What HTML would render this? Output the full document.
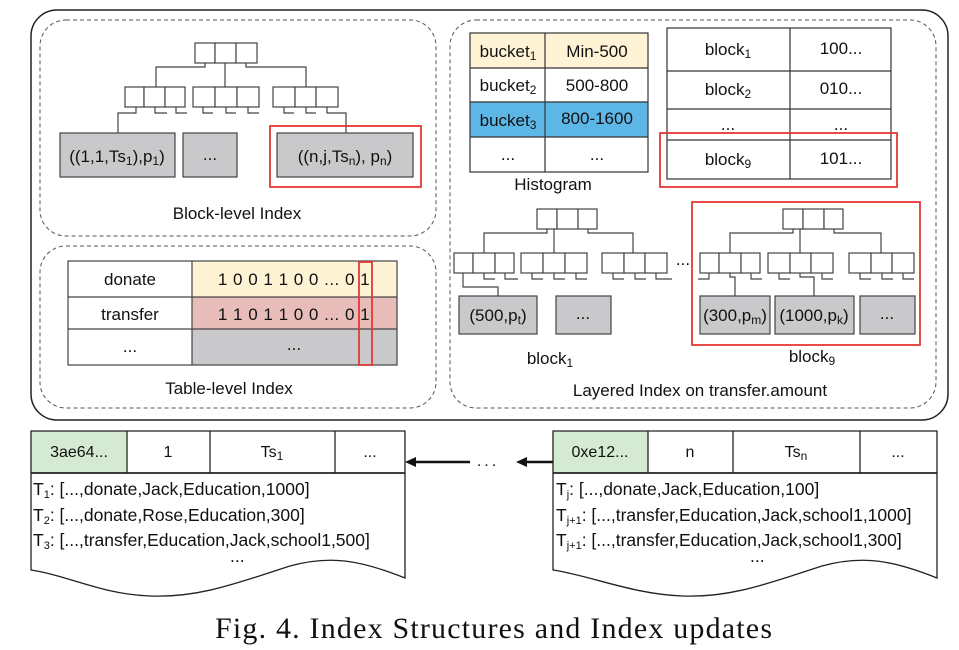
<!DOCTYPE html>
<html><head><meta charset="utf-8"><style>
html,body{margin:0;padding:0;background:#fff;}
svg{display:block;}
text{font-family:"Liberation Sans",sans-serif;fill:#111;}
</style></head><body>
<svg width="959" height="650" viewBox="0 0 959 650" xmlns="http://www.w3.org/2000/svg">
<g fill="none" stroke="#222">
<rect x="31" y="10" width="917" height="410" rx="26" stroke-width="1.5"/>
<rect x="40" y="20" width="396" height="216" rx="26" stroke-dasharray="4,3" stroke="#555"/>
<rect x="40" y="246" width="396" height="162" rx="26" stroke-dasharray="4,3" stroke="#555"/>
<rect x="450" y="20" width="486" height="388" rx="26" stroke-dasharray="4,3" stroke="#555"/>
</g>

<!-- Block-level tree -->
<g fill="#fff" stroke="#444" stroke-width="1.2">
<rect x="195" y="43" width="20" height="20"/><rect x="215" y="43" width="21" height="20"/><rect x="236" y="43" width="21" height="20"/>
<rect x="125" y="87" width="19" height="20"/><rect x="144" y="87" width="21" height="20"/><rect x="165" y="87" width="20" height="20"/>
<rect x="193" y="87" width="22" height="20"/><rect x="215" y="87" width="22" height="20"/><rect x="237" y="87" width="22" height="20"/>
<rect x="273" y="87" width="22" height="20"/><rect x="295" y="87" width="21" height="20"/><rect x="316" y="87" width="22" height="20"/>
</g>
<g fill="none" stroke="#444" stroke-width="1.2">
<polyline points="205,63 205,67 156,67 156,87"/><line x1="225" y1="63" x2="225" y2="87"/><polyline points="246,63 246,67 306,67 306,87"/>
<polyline points="136,107 136,113 118,113 118,133"/>
<polyline points="155,107 155,113 167,113"/><polyline points="176,107 176,113 187,113"/>
<polyline points="203,107 203,113 213,113"/><polyline points="226,107 226,113 236,113"/><polyline points="248,107 248,113 259,113"/>
<polyline points="284,107 284,113 294,113"/><polyline points="306,107 306,113 316,113"/><polyline points="327,107 327,113 346,113 346,133"/>
</g>
<g fill="#c9c9cb" stroke="#444" stroke-width="1.2">
<rect x="60" y="133" width="115" height="44"/><rect x="183" y="133" width="54" height="44"/><rect x="277" y="133" width="136" height="44"/>
</g>
<rect x="270" y="126" width="151" height="61" fill="none" stroke="#e53935" stroke-width="1.8"/>
<g font-size="17" text-anchor="middle">
<text x="117" y="162">((1,1,Ts<tspan font-size="12" dy="3">1</tspan><tspan dy="-3">),p</tspan><tspan font-size="12" dy="3">1</tspan><tspan dy="-3">)</tspan></text>
<text x="210" y="160">...</text>
<text x="345" y="162">((n,j,Ts<tspan font-size="12" dy="3">n</tspan><tspan dy="-3">), p</tspan><tspan font-size="12" dy="3">n</tspan><tspan dy="-3">)</tspan></text>
<text x="237" y="219">Block-level Index</text>
</g>

<!-- Table-level -->
<rect x="192" y="261" width="205" height="36" fill="#fef3d4"/>
<rect x="192" y="297" width="205" height="32" fill="#e8bcb8"/>
<rect x="192" y="329" width="205" height="36" fill="#c9c9cb"/>
<g fill="none" stroke="#444" stroke-width="1.2">
<rect x="68" y="261" width="329" height="104"/>
<line x1="192" y1="261" x2="192" y2="365"/><line x1="68" y1="297" x2="397" y2="297"/><line x1="68" y1="329" x2="397" y2="329"/>
</g>
<rect x="359" y="262" width="13" height="103" fill="none" stroke="#e53935" stroke-width="1.8"/>
<g font-size="17" text-anchor="middle">
<text x="130" y="285">donate</text><text x="130" y="320">transfer</text><text x="130" y="352">...</text>
<text x="294" y="285" letter-spacing="0.5">1 0 0 1 1 0 0 ... 0 1</text>
<text x="294" y="320" letter-spacing="0.5">1 1 0 1 1 0 0 ... 0 1</text>
<text x="294" y="350">...</text>
<text x="229" y="394">Table-level Index</text>
</g>

<!-- Histogram -->
<rect x="470" y="33" width="178" height="35" fill="#fef3d4"/>
<rect x="470" y="102" width="178" height="35" fill="#5db7e6"/>
<g fill="none" stroke="#333" stroke-width="1.2">
<rect x="470" y="33" width="178" height="139"/>
<line x1="545" y1="33" x2="545" y2="172"/><line x1="470" y1="68" x2="648" y2="68"/><line x1="470" y1="102" x2="648" y2="102"/><line x1="470" y1="137" x2="648" y2="137"/>
<rect x="667" y="28" width="224" height="151"/>
<line x1="790" y1="28" x2="790" y2="179"/><line x1="667" y1="71" x2="891" y2="71"/><line x1="667" y1="109" x2="891" y2="109"/><line x1="667" y1="140" x2="891" y2="140"/>
</g>
<rect x="660" y="133" width="237" height="54" fill="none" stroke="#e53935" stroke-width="1.8"/>
<g font-size="17" text-anchor="middle">
<text x="508" y="57">bucket<tspan font-size="12" dy="3">1</tspan></text><text x="597" y="57">Min-500</text>
<text x="508" y="91">bucket<tspan font-size="12" dy="3">2</tspan></text><text x="597" y="91">500-800</text>
<text x="508" y="126">bucket<tspan font-size="12" dy="3">3</tspan></text><text x="597" y="124">800-1600</text>
<text x="508" y="160">...</text><text x="597" y="160">...</text>
<text x="553" y="190">Histogram</text>
<text x="728" y="55">block<tspan font-size="12" dy="3">1</tspan></text><text x="841" y="54">100...</text>
<text x="728" y="95">block<tspan font-size="12" dy="3">2</tspan></text><text x="841" y="94">010...</text>
<text x="728" y="130">...</text><text x="841" y="130">...</text>
<text x="728" y="165">block<tspan font-size="12" dy="3">9</tspan></text><text x="841" y="164">101...</text>
</g>

<!-- Layered trees -->
<g fill="#fff" stroke="#444" stroke-width="1.2">
<rect x="537" y="209" width="20" height="20"/><rect x="557" y="209" width="21" height="20"/><rect x="578" y="209" width="19" height="20"/>
<rect x="454" y="253" width="19" height="20"/><rect x="473" y="253" width="22" height="20"/><rect x="495" y="253" width="19" height="20"/>
<rect x="521" y="253" width="22" height="20"/><rect x="543" y="253" width="22" height="20"/><rect x="565" y="253" width="22" height="20"/>
<rect x="602" y="253" width="22" height="20"/><rect x="624" y="253" width="21" height="20"/><rect x="645" y="253" width="22" height="20"/>
<rect x="783" y="209" width="20" height="20"/><rect x="803" y="209" width="21" height="20"/><rect x="824" y="209" width="19" height="20"/>
<rect x="700" y="253" width="19" height="20"/><rect x="719" y="253" width="22" height="20"/><rect x="741" y="253" width="19" height="20"/>
<rect x="768" y="253" width="22" height="20"/><rect x="790" y="253" width="21" height="20"/><rect x="811" y="253" width="22" height="20"/>
<rect x="849" y="253" width="22" height="20"/><rect x="871" y="253" width="21" height="20"/><rect x="892" y="253" width="22" height="20"/>
</g>
<g fill="none" stroke="#444" stroke-width="1.2">
<polyline points="547,229 547,233 484,233 484,253"/><line x1="554" y1="229" x2="554" y2="253"/><polyline points="588,229 588,233 633,233 633,253"/>
<polyline points="463,273 463,287 498,287 498,296"/>
<polyline points="484,273 484,279 495,279"/><polyline points="505,273 505,279 518,279"/>
<polyline points="532,273 532,279 543,279"/><polyline points="554,273 554,279 565,279"/><polyline points="576,273 576,279 587,279"/>
<polyline points="613,273 613,279 624,279"/><polyline points="635,273 635,279 646,279"/><polyline points="656,273 656,279 672,279"/>
<polyline points="793,229 793,233 730,233 730,253"/><line x1="800" y1="229" x2="800" y2="253"/><polyline points="834,229 834,233 881,233 881,253"/>
<polyline points="709,273 709,279 698,279"/><polyline points="730,273 730,277 735,277 735,296"/><polyline points="751,273 751,279 762,279"/>
<polyline points="779,273 779,279 790,279"/><polyline points="800,273 800,277 814,277 814,296"/><polyline points="822,273 822,279 833,279"/>
<polyline points="860,273 860,279 871,279"/><polyline points="882,273 882,279 893,279"/><polyline points="903,273 903,279 914,279"/>
</g>
<g fill="#c9c9cb" stroke="#444" stroke-width="1.2">
<rect x="459" y="296" width="78" height="38"/><rect x="556" y="296" width="55" height="38"/>
<rect x="700" y="296" width="70" height="38"/><rect x="775" y="296" width="79" height="38"/><rect x="860" y="296" width="55" height="38"/>
</g>
<rect x="692" y="202" width="228" height="143" fill="none" stroke="#e53935" stroke-width="1.8"/>
<g font-size="17" text-anchor="middle">
<text x="498" y="321">(500,p<tspan font-size="12" dy="3">t</tspan><tspan dy="-3">)</tspan></text>
<text x="583" y="319">...</text>
<text x="735" y="321">(300,p<tspan font-size="12" dy="3">m</tspan><tspan dy="-3">)</tspan></text>
<text x="814" y="321">(1000,p<tspan font-size="12" dy="3">k</tspan><tspan dy="-3">)</tspan></text>
<text x="887" y="319">...</text>
<text x="683" y="265">...</text>
<text x="550" y="364">block<tspan font-size="12" dy="3">1</tspan></text>
<text x="812" y="362">block<tspan font-size="12" dy="3">9</tspan></text>
<text x="700" y="396">Layered Index on transfer.amount</text>
</g>

<!-- Bottom blocks -->
<rect x="31" y="431" width="96" height="42" fill="#d5ead3"/>
<rect x="553" y="431" width="95" height="42" fill="#d5ead3"/>
<g fill="none" stroke="#222" stroke-width="1.3">
<path d="M31,431 H405 V578 C360,560 330,555 290,566 C240,582 200,598 150,596 C100,594 70,576 31,570 Z"/>
<line x1="31" y1="473" x2="405" y2="473" stroke-width="1.8"/>
<line x1="127" y1="431" x2="127" y2="473"/><line x1="210" y1="431" x2="210" y2="473"/><line x1="335" y1="431" x2="335" y2="473"/>
<path d="M553,431 H937 V578 C892,560 862,555 822,566 C772,582 732,598 682,596 C632,594 592,576 553,570 Z"/>
<line x1="553" y1="473" x2="937" y2="473" stroke-width="1.8"/>
<line x1="648" y1="431" x2="648" y2="473"/><line x1="733" y1="431" x2="733" y2="473"/><line x1="860" y1="431" x2="860" y2="473"/>
</g>
<g stroke="#111" stroke-width="2.5"><line x1="414" y1="462" x2="470" y2="462"/><line x1="526" y1="462" x2="553" y2="462"/></g>
<polygon points="405,462 416,457 416,467" fill="#111"/>
<polygon points="516,462 527,457 527,467" fill="#111"/>
<text x="488" y="466" font-size="16" text-anchor="middle" letter-spacing="3">...</text>
<g font-size="16" text-anchor="middle">
<text x="79" y="457">3ae64...</text><text x="168" y="457">1</text><text x="272" y="457">Ts<tspan font-size="12" dy="3">1</tspan></text><text x="370" y="457">...</text>
<text x="600" y="457">0xe12...</text><text x="690" y="457">n</text><text x="796" y="457">Ts<tspan font-size="12" dy="3">n</tspan></text><text x="898" y="457">...</text>
</g>
<g font-size="17.5">
<text x="33" y="495">T<tspan font-size="11" dy="3">1</tspan><tspan dy="-3">: [...,donate,Jack,Education,1000]</tspan></text>
<text x="33" y="521">T<tspan font-size="11" dy="3">2</tspan><tspan dy="-3">: [...,donate,Rose,Education,300]</tspan></text>
<text x="33" y="546">T<tspan font-size="11" dy="3">3</tspan><tspan dy="-3">: [...,transfer,Education,Jack,school1,500]</tspan></text>
<text x="230" y="562">...</text>
<text x="556" y="495">T<tspan font-size="11" dy="3">j</tspan><tspan dy="-3">: [...,donate,Jack,Education,100]</tspan></text>
<text x="556" y="521">T<tspan font-size="11" dy="3">j+1</tspan><tspan dy="-3">: [...,transfer,Education,Jack,school1,1000]</tspan></text>
<text x="556" y="546">T<tspan font-size="11" dy="3">j+1</tspan><tspan dy="-3">: [...,transfer,Education,Jack,school1,300]</tspan></text>
<text x="750" y="562">...</text>
</g>
<text x="215" y="638" font-size="30" textLength="557" lengthAdjust="spacing" style="font-family:'Liberation Serif',serif">Fig. 4.  Index Structures and Index updates</text>
</svg>
</body></html>
